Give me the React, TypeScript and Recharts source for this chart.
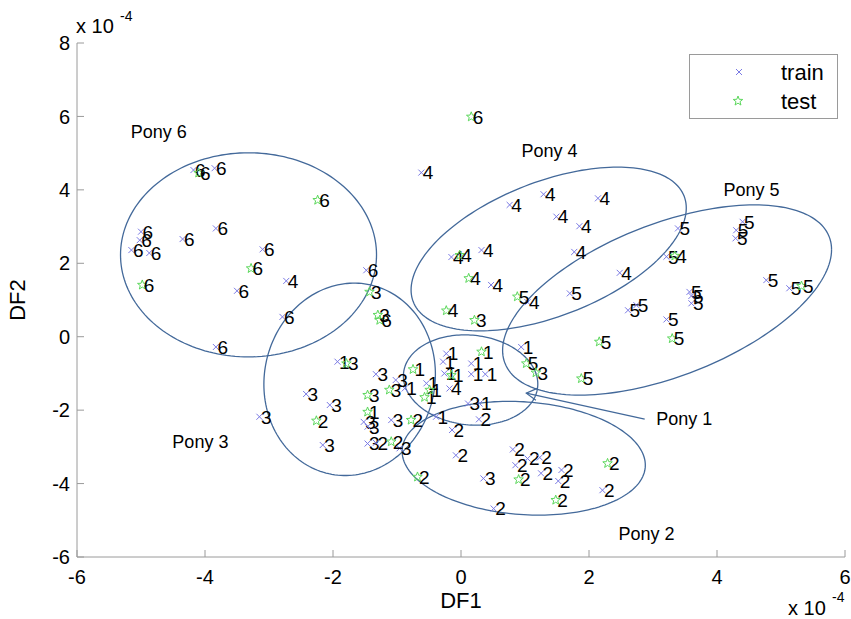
import React from 'react';
import { ScatterChart, Scatter, XAxis, YAxis } from 'recharts';

const xTicks = [-6, -4, -2, 0, 2, 4, 6];
const yTicks = [-6, -4, -2, 0, 2, 4, 6, 8];

// [DF1, DF2, pony] in units of 1e-4
const trainPoints: [number, number, number][] = [
  // pony 6
  [-4.18, 4.54, 6], [-3.85, 4.59, 6], [-5.0, 2.86, 6], [-5.02, 2.63, 6], [-5.15, 2.36, 6],
  [-4.87, 2.28, 6], [-4.35, 2.66, 6], [-3.83, 2.95, 6], [-3.1, 2.38, 6], [-3.5, 1.25, 6],
  [-2.79, 0.54, 6], [-3.83, -0.28, 6], [-1.48, 1.81, 6],
  // pony 4
  [-2.73, 1.52, 4], [-0.62, 4.47, 4], [0.76, 3.59, 4], [1.29, 3.88, 4], [2.14, 3.77, 4],
  [1.49, 3.27, 4], [1.85, 3.01, 4], [1.77, 2.31, 4], [2.48, 1.74, 4], [-0.15, 2.17, 4],
  [0.32, 2.36, 4], [0.47, 1.41, 4], [1.04, 0.94, 4], [-0.18, -1.41, 4],
  // pony 5
  [1.7, 1.18, 5], [2.61, 0.72, 5], [2.74, 0.86, 5], [3.39, 2.95, 5], [3.21, 2.18, 5],
  [4.4, 3.13, 5], [4.3, 2.9, 5], [4.29, 2.68, 5], [4.77, 1.54, 5], [5.13, 1.32, 5],
  [3.57, 1.22, 5], [3.6, 1.11, 5], [3.6, 0.91, 5], [3.21, 0.47, 5],
  // pony 1
  [0.94, -0.28, 1], [-1.93, -0.68, 1], [-0.88, -1.41, 1], [-0.54, -1.27, 1], [-0.28, -0.68, 1],
  [-0.23, -0.46, 1], [-0.26, -1.0, 1], [0.16, -0.73, 1], [0.16, -1.02, 1], [0.38, -1.02, 1],
  [0.29, -1.82, 1], [-0.39, -2.18, 1],
  // pony 3
  [-1.33, -1.02, 3], [-1.02, -1.18, 3], [-2.42, -1.56, 3], [-2.05, -1.86, 3], [-3.15, -2.18, 3],
  [-2.16, -2.95, 3], [-1.52, -2.32, 3], [-1.46, -2.45, 3], [-1.09, -2.27, 3], [-1.46, -2.91, 3],
  [-0.96, -3.04, 3], [0.11, -1.82, 3], [0.35, -3.86, 3],
  // pony 2
  [-1.33, -2.89, 2], [-0.14, -2.54, 2], [0.28, -2.25, 2], [-0.08, -3.23, 2], [0.81, -3.07, 2],
  [0.85, -3.5, 2], [1.04, -3.32, 2], [1.23, -3.29, 2], [1.25, -3.72, 2], [1.57, -3.63, 2],
  [1.52, -3.93, 2], [2.21, -4.18, 2], [0.51, -4.68, 2],
];

const testPoints: [number, number, number][] = [
  [-4.1, 4.46, 6], [-4.98, 1.41, 6], [-3.28, 1.86, 6], [-2.24, 3.72, 6], [-1.27, 0.45, 6], [0.16, 5.99, 6],
  [-0.02, 2.22, 4], [0.12, 1.59, 4], [-0.23, 0.71, 4], [3.34, 2.2, 4],
  [0.88, 1.09, 5], [2.16, -0.14, 5], [5.32, 1.38, 5], [3.3, -0.05, 5], [1.02, -0.73, 5], [1.88, -1.14, 5],
  [-0.75, -0.89, 1], [-0.57, -1.65, 1], [-0.49, -1.45, 1], [-0.15, -1.05, 1], [0.32, -0.41, 1], [-1.46, -2.05, 1],
  [-1.79, -0.73, 3], [-1.43, 1.22, 3], [-1.3, 0.59, 3], [-1.12, -1.45, 3], [-1.46, -1.59, 3], [0.21, 0.45, 3], [1.17, -0.98, 3],
  [-2.26, -2.29, 2], [-0.78, -2.27, 2], [-1.09, -2.86, 2], [-0.68, -3.82, 2], [0.9, -3.89, 2], [1.48, -4.45, 2], [2.29, -3.45, 2],
];

// centre x, centre y, half width, half height, tilt (deg)
const ponyEllipses: [number, number, number, number, number][] = [
  [-3.32, 2.23, 2.0, 2.78, 0],
  [1.37, 2.39, 2.15, 2.23, 30],
  [3.22, 1.0, 2.57, 2.59, 32],
  [0.15, -1.18, 1.05, 1.23, -5],
  [-1.74, -1.16, 1.34, 2.62, 3],
  [0.98, -3.31, 1.9, 1.55, -7],
];

const ponyLabels: [string, number, number][] = [
  ['Pony 6', -5.16, 5.6],
  ['Pony 4', 0.945, 5.06],
  ['Pony 5', 4.1, 4.02],
  ['Pony 1', 3.05, -2.24],
  ['Pony 3', -4.51, -2.85],
  ['Pony 2', 2.46, -5.35],
];

const arrowShaft = [[2.87, -2.245], [1.02, -1.537]];
const arrowHead = [[1.2, -1.4], [1.02, -1.537], [1.17, -1.73]];

const AXIS = '#9a9a9a';
const ELLIPSE = '#43699a';
const TRAIN = '#7a7ae4';
const TEST = '#5cd85c';
const FONT = '"Liberation Sans", Arial, Helvetica, sans-serif';

const toRows = (pts: [number, number, number][]) => pts.map(([x, y, c]) => ({ x, y, c }));
const pairRows = (pts: number[][]) => pts.map(([x, y]) => ({ x, y }));

function ellipseRows([cx, cy, rx, ry, tilt]: [number, number, number, number, number]) {
  const rows = [];
  const phi = (tilt * Math.PI) / 180;
  for (let i = 0; i <= 180; i++) {
    const t = (i / 180) * 2 * Math.PI;
    rows.push({ x: cx + rx * Math.cos(t), y: cy + ry * Math.sin(t + phi) });
  }
  return rows;
}

function starPath(cx: number, cy: number, R: number, r: number) {
  let d = '';
  for (let k = 0; k < 10; k++) {
    const a = -Math.PI / 2 + (k * Math.PI) / 5;
    const rad = k % 2 === 0 ? R : r;
    d += (k === 0 ? 'M' : 'L') + (cx + rad * Math.cos(a)).toFixed(2) + ',' + (cy + rad * Math.sin(a)).toFixed(2);
  }
  return d + 'Z';
}

const crossPath = (cx: number, cy: number, s: number) =>
  `M${cx - s},${cy - s}L${cx + s},${cy + s}M${cx - s},${cy + s}L${cx + s},${cy - s}`;

const TrainMark = (props: any) => {
  const { cx, cy, payload } = props;
  return (
    <g>
      <path d={crossPath(cx, cy, 3)} stroke={TRAIN} strokeWidth={1} fill="none" />
      <text x={cx + 1.5} y={cy} dy="0.36em" fontSize={19} fontFamily={FONT} fill="#000">{payload.c}</text>
    </g>
  );
};

const TestMark = (props: any) => {
  const { cx, cy, payload } = props;
  return (
    <g>
      <path d={starPath(cx, cy, 5, 2.1)} stroke={TEST} strokeWidth={1} fill="none" />
      <text x={cx + 1.5} y={cy} dy="0.36em" fontSize={19} fontFamily={FONT} fill="#000">{payload.c}</text>
    </g>
  );
};

const PonyText = (props: any) => (
  <text x={props.cx} y={props.cy} dy="0.36em" fontSize={18} fontFamily={FONT} fill="#000">{props.payload.name}</text>
);

const NoShape = () => <g />;

const BottomTick = ({ x, y, payload }: any) => (
  <g>
    <line x1={x} y1={y} x2={x} y2={y - 7} stroke={AXIS} />
    <text x={x} y={y + 27} textAnchor="middle" fontSize={20} fontFamily={FONT} fill="#000">{payload.value}</text>
  </g>
);
const TopTick = ({ x, y }: any) => <line x1={x} y1={y} x2={x} y2={y + 7} stroke={AXIS} />;
const LeftTick = ({ x, y, payload }: any) => (
  <g>
    <line x1={x} y1={y} x2={x + 7} y2={y} stroke={AXIS} />
    <text x={x - 7} y={y} dy="0.36em" textAnchor="end" fontSize={20} fontFamily={FONT} fill="#000">{payload.value}</text>
  </g>
);
const RightTick = ({ x, y }: any) => <line x1={x} y1={y} x2={x - 7} y2={y} stroke={AXIS} />;

export default function App() {
  const labelRows = ponyLabels.map(([name, x, y]) => ({ name, x, y }));
  return (
    <div style={{ position: 'relative', width: 851, height: 619, background: '#fff', fontFamily: FONT, color: '#000' }}>
      <style>{'body{margin:0}'}</style>
      <ScatterChart width={851} height={619} margin={{ top: 43, right: 6, bottom: 0, left: 0 }}>
        <XAxis type="number" dataKey="x" domain={[-6, 6]} ticks={xTicks} interval={0} height={62}
          allowDataOverflow axisLine={{ stroke: AXIS }} tickLine={false} tickSize={0} tickMargin={0} tick={BottomTick} />
        <XAxis xAxisId="top" orientation="top" type="number" dataKey="x" domain={[-6, 6]} ticks={xTicks} interval={0} height={0}
          allowDataOverflow axisLine={{ stroke: AXIS }} tickLine={false} tickSize={0} tickMargin={0} tick={TopTick} />
        <YAxis type="number" dataKey="y" domain={[-6, 8]} ticks={yTicks} interval={0} width={77}
          allowDataOverflow axisLine={{ stroke: AXIS }} tickLine={false} tickSize={0} tickMargin={0} tick={LeftTick} />
        <YAxis yAxisId="right" orientation="right" type="number" dataKey="y" domain={[-6, 8]} ticks={yTicks} interval={0} width={0}
          allowDataOverflow axisLine={{ stroke: AXIS }} tickLine={false} tickSize={0} tickMargin={0} tick={RightTick} />

        {ponyEllipses.map((e, i) => (
          <Scatter key={'ell' + i} data={ellipseRows(e)} line={{ stroke: ELLIPSE, strokeWidth: 1.3 }} lineType="joint"
            shape={NoShape} isAnimationActive={false} />
        ))}
        <Scatter data={pairRows(arrowShaft)} line={{ stroke: ELLIPSE, strokeWidth: 1.2 }} lineType="joint" shape={NoShape} isAnimationActive={false} />
        <Scatter data={pairRows(arrowHead)} line={{ stroke: ELLIPSE, strokeWidth: 1.2 }} lineType="joint" shape={NoShape} isAnimationActive={false} />

        <Scatter name="train" data={toRows(trainPoints)} shape={TrainMark} isAnimationActive={false} />
        <Scatter name="test" data={toRows(testPoints)} shape={TestMark} isAnimationActive={false} />
        <Scatter data={labelRows} shape={PonyText} isAnimationActive={false} />
      </ScatterChart>

      {/* axis multipliers and titles */}
      <div style={{ position: 'absolute', left: 76, top: 16, fontSize: 20, lineHeight: '20px' }}>x 10</div>
      <div style={{ position: 'absolute', left: 120, top: 9, fontSize: 14, lineHeight: '14px' }}>-4</div>
      <div style={{ position: 'absolute', left: 788, top: 598, fontSize: 20, lineHeight: '20px' }}>x 10</div>
      <div style={{ position: 'absolute', left: 832, top: 590, fontSize: 14, lineHeight: '14px' }}>-4</div>
      <div style={{ position: 'absolute', left: 461, top: 601, transform: 'translate(-50%, -50%)', fontSize: 22 }}>DF1</div>
      <div style={{ position: 'absolute', left: 18, top: 300, transform: 'translate(-50%, -50%) rotate(-90deg)', fontSize: 22 }}>DF2</div>

      {/* legend */}
      <div style={{ position: 'absolute', left: 689, top: 54, width: 147, height: 63, border: `1px solid ${AXIS}`, background: '#fff' }}>
        <svg width={147} height={63} style={{ position: 'absolute', left: 0, top: 0 }}>
          <path d={crossPath(49, 17, 3)} stroke={TRAIN} strokeWidth={1} fill="none" />
          <path d={starPath(48, 46, 5, 2.1)} stroke={TEST} strokeWidth={1} fill="none" />
          <text x={91} y={17} dy="0.36em" fontSize={22} fontFamily={FONT}>train</text>
          <text x={91} y={46} dy="0.36em" fontSize={22} fontFamily={FONT}>test</text>
        </svg>
      </div>
    </div>
  );
}
